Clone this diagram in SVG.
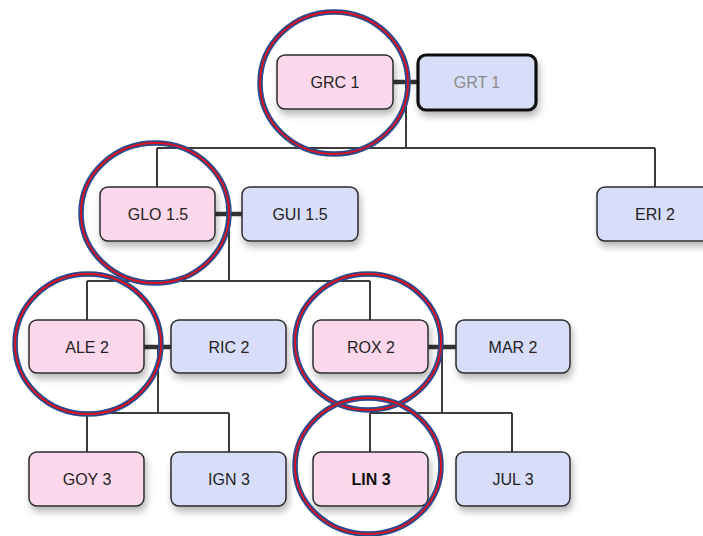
<svg xmlns="http://www.w3.org/2000/svg" width="703" height="536" viewBox="0 0 703 536">
<defs>
<filter id="sh" x="-20%" y="-20%" width="150%" height="160%">
<feDropShadow dx="2" dy="5" stdDeviation="3.5" flood-color="#000" flood-opacity="0.28"/>
</filter>
</defs>
<style>
.p{fill:#fdd8ec;stroke:#2b2b2b;stroke-width:1.5}
.b{fill:#d8def9;stroke:#2b2b2b;stroke-width:1.5}
.t{font-family:"Liberation Sans",Arial,sans-serif;font-size:16px;fill:#222;text-anchor:middle}
.ln{fill:none;stroke:#3c3c3c;stroke-width:2}
.sp{fill:none;stroke:#333;stroke-width:4.5}
.cb{fill:none;stroke:#2c4a8c;stroke-width:5.5}
.cr{fill:none;stroke:#e0101c;stroke-width:1.8}
</style>
<rect width="703" height="536" fill="#fff"/>
<g id="connectors">
<path class="ln" d="M406 83V148M157 148H655M157 148V187M655 148V187"/>
<path class="ln" d="M229 214V281M87 281H370M87 281V320M370 281V320"/>
<path class="ln" d="M158 347V413M87 413H229M87 413V452M229 413V452"/>
<path class="ln" d="M442 347V413M370 413H512M370 413V452M512 413V452"/>
<path class="sp" d="M393 82H418M215 214H242M144 347H171M428 347H456"/>
</g>
<g id="GRC1"><rect class="p" x="277" y="55" width="116" height="54" rx="8" filter="url(#sh)"/><text class="t" x="335" y="88">GRC 1</text></g>
<g id="GRT1"><rect class="b" x="418" y="55" width="118" height="55" rx="8" style="stroke:#111;stroke-width:3.2" filter="url(#sh)"/><text class="t" x="477" y="88" style="fill:#8a8a8a">GRT 1</text></g>
<g id="GLO15"><rect class="p" x="100" y="187" width="115" height="54" rx="8" filter="url(#sh)"/><text class="t" x="158" y="220">GLO 1.5</text></g>
<g id="GUI15"><rect class="b" x="242" y="187" width="116" height="54" rx="8" filter="url(#sh)"/><text class="t" x="300" y="220">GUI 1.5</text></g>
<g id="ERI2"><rect class="b" x="597" y="187" width="116" height="54" rx="8" filter="url(#sh)"/><text class="t" x="655" y="220">ERI 2</text></g>
<g id="ALE2"><rect class="p" x="29" y="320" width="115" height="53" rx="8" filter="url(#sh)"/><text class="t" x="87" y="353">ALE 2</text></g>
<g id="RIC2"><rect class="b" x="171" y="320" width="115" height="53" rx="8" filter="url(#sh)"/><text class="t" x="229" y="353">RIC 2</text></g>
<g id="ROX2"><rect class="p" x="313" y="320" width="115" height="53" rx="8" filter="url(#sh)"/><text class="t" x="371" y="353">ROX 2</text></g>
<g id="MAR2"><rect class="b" x="456" y="320" width="114" height="53" rx="8" filter="url(#sh)"/><text class="t" x="513" y="353">MAR 2</text></g>
<g id="GOY3"><rect class="p" x="29" y="452" width="115" height="54" rx="8" filter="url(#sh)"/><text class="t" x="87" y="485">GOY 3</text></g>
<g id="IGN3"><rect class="b" x="171" y="452" width="115" height="54" rx="8" filter="url(#sh)"/><text class="t" x="229" y="485">IGN 3</text></g>
<g id="LIN3"><rect class="p" x="313" y="452" width="115" height="54" rx="8" filter="url(#sh)"/><text class="t" x="371" y="485" style="font-weight:bold;fill:#111">LIN 3</text></g>
<g id="JUL3"><rect class="b" x="456" y="452" width="114" height="54" rx="8" filter="url(#sh)"/><text class="t" x="513" y="485">JUL 3</text></g>
<g id="circles">
<ellipse class="cb" cx="334" cy="83" rx="74" ry="71"/><ellipse class="cr" cx="334" cy="83" rx="74" ry="71"/>
<ellipse class="cb" cx="155" cy="213" rx="74" ry="70"/><ellipse class="cr" cx="155" cy="213" rx="74" ry="70"/>
<ellipse class="cb" cx="88" cy="344" rx="73" ry="70"/><ellipse class="cr" cx="88" cy="344" rx="73" ry="70"/>
<ellipse class="cb" cx="368" cy="342" rx="73" ry="68"/><ellipse class="cr" cx="368" cy="342" rx="73" ry="68"/>
<ellipse class="cb" cx="368" cy="466" rx="73" ry="68"/><ellipse class="cr" cx="368" cy="466" rx="73" ry="68"/>
</g>
</svg>
